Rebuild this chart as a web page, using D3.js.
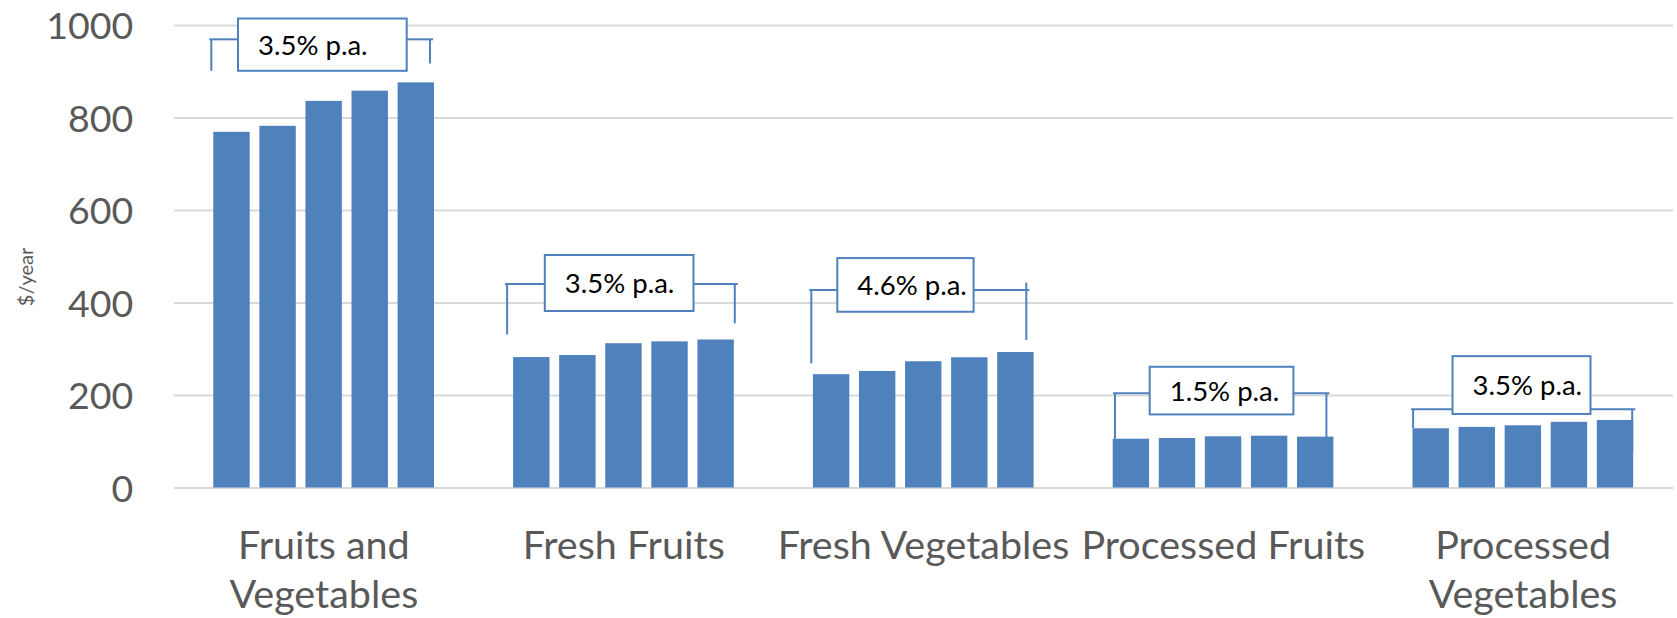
<!DOCTYPE html>
<html>
<head>
<meta charset="utf-8">
<script src="https://cdn.jsdelivr.net/npm/d3@7"></script>
<style>
  html, body { margin: 0; padding: 0; background: #fff; }
  svg { display: block; }
  text { font-family: Lato, "Open Sans", sans-serif; }
</style>
</head>
<body>
<svg id="chart" width="1677" height="618"></svg>
<script>
// ---- data ----
const categories = ["Fruits and Vegetables", "Fresh Fruits", "Fresh Vegetables", "Processed Fruits", "Processed Vegetables"];
const seriesNames = ["Year 1", "Year 2", "Year 3", "Year 4", "Year 5"];
const fruitsAndVegetables = [769, 782, 836, 858, 876];
const freshFruits        = [282, 286.5, 312, 316, 320];
const freshVegetables    = [245, 252, 273, 281.5, 293];
const processedFruits    = [105.5, 107, 110.7, 112, 110];
const processedVegetables= [128, 131, 134.5, 142, 146];
const yTicks = [0, 200, 400, 600, 800, 1000];
const yTitle = "$/year";
const growthLabels = ["3.5% p.a.", "3.5% p.a.", "4.6% p.a.", "1.5% p.a.", "3.5% p.a."];
// bracket levels in $/year units
const bracketLevel   = [969, 440, 427, 203.7, 169];
const leftLegBottom  = [901, 331, 268.5, 105.5, 128];
const rightLegTop    = [969, 440, 443, 203.7, 169];
const rightLegBottom = [917, 355, 319, 108.5, 77];
const boxTop         = [1014, 502.7, 496, 261, 284];
const boxBottom      = [901, 381.6, 380, 158, 159];

const values = [fruitsAndVegetables, freshFruits, freshVegetables, processedFruits, processedVegetables];

// ---- annotation layout (offsets in px relative to band / bars) ----
const boxX = [[64, 232.7], [71, 219.7], [63.7, 200], [76.3, 220], [79.3, 217.3]];
const legDx = [[-2, -4], [-6, 1], [-1.6, -7.3], [2.3, -7], [0.6, -1]];

const svg = d3.select("#chart");
const margin = { left: 174, right: 1673, top: 25, bottom: 487.5 };

const x = d3.scaleBand().domain(categories).range([margin.left, margin.right]).paddingInner(0).paddingOuter(0);
const xi = d3.scaleBand().domain(seriesNames).range([39.3, 260]).paddingInner(0.21);
const y = d3.scaleLinear().domain([0, 1000]).range([margin.bottom, margin.top]);

const blue = "#4F81BD";
const gray = "#595959";

// gridlines
const yAxis = d3.axisLeft(y).tickValues(yTicks).tickSize(-(margin.right - margin.left)).tickPadding(40.7).tickFormat(d3.format("d"));
const gAxis = svg.append("g").attr("transform", `translate(${margin.left},0)`).call(yAxis);
gAxis.select(".domain").remove();
gAxis.selectAll(".tick line").attr("stroke", "#D9D9D9").attr("stroke-width", 2);
gAxis.selectAll(".tick text").attr("fill", gray).attr("font-size", 37.5).attr("dy", "0.36em")
  .style("font-family", "Lato, 'Open Sans', sans-serif");

// y title
svg.append("text")
  .attr("transform", `translate(33,277) rotate(-90)`)
  .attr("text-anchor", "middle")
  .attr("fill", gray)
  .attr("font-size", 20)
  .text(yTitle);

// bars
const groups = svg.append("g").selectAll("g").data(categories).join("g")
  .attr("transform", d => `translate(${x(d)},0)`);
groups.selectAll("rect").data((d, i) => values[i].map((v, j) => ({ s: seriesNames[j], v })))
  .join("rect")
  .attr("x", d => xi(d.s))
  .attr("width", xi.bandwidth())
  .attr("y", d => y(d.v))
  .attr("height", d => y(0) - y(d.v))
  .attr("fill", blue);

// category labels (wrapped to band width)
const catG = svg.append("g");
categories.forEach((c, i) => {
  const cx = x(c) + x.bandwidth() / 2;
  const t = catG.append("text").attr("x", cx).attr("y", 559).attr("text-anchor", "middle")
    .attr("fill", gray).attr("font-size", 39.5);
  t.text(c);
  const w = t.node().getComputedTextLength();
  if (w > x.bandwidth() * 1.03) {
    t.text(null);
    const words = c.split(" ");
    const mid = Math.ceil(words.length / 2);
    t.append("tspan").attr("x", cx).attr("dy", 0).text(words.slice(0, mid).join(" "));
    t.append("tspan").attr("x", cx).attr("dy", 49).text(words.slice(mid).join(" "));
  }
});

// growth annotations
const ann = svg.append("g");
categories.forEach((c, i) => {
  const b0 = x(c);
  const xl = b0 + xi(seriesNames[0]) + legDx[i][0];
  const xr = b0 + xi(seriesNames[4]) + xi.bandwidth() + legDx[i][1];
  const bx0 = b0 + boxX[i][0], bx1 = b0 + boxX[i][1];
  const lvl = y(bracketLevel[i]);
  const line = (x1, y1, x2, y2) => ann.append("line").attr("x1", x1).attr("y1", y1).attr("x2", x2).attr("y2", y2)
    .attr("stroke", blue).attr("stroke-width", 2);
  line(xl - 2, lvl, bx0, lvl);
  line(xl, lvl, xl, y(leftLegBottom[i]));
  line(bx1, lvl, xr + 3, lvl);
  line(xr, y(rightLegTop[i]), xr, y(rightLegBottom[i]));
  const yt = y(boxTop[i]), yb = y(boxBottom[i]);
  ann.append("rect").attr("x", bx0).attr("y", yt).attr("width", bx1 - bx0).attr("height", yb - yt)
    .attr("fill", "#fff").attr("stroke", blue).attr("stroke-width", 2);
  ann.append("text").attr("x", bx0 + 20).attr("y", (yt + yb) / 2).attr("dy", "0.36em")
    .attr("fill", "#000").attr("font-size", 27.5).text(growthLabels[i]);
});
</script>
</body>
</html>
